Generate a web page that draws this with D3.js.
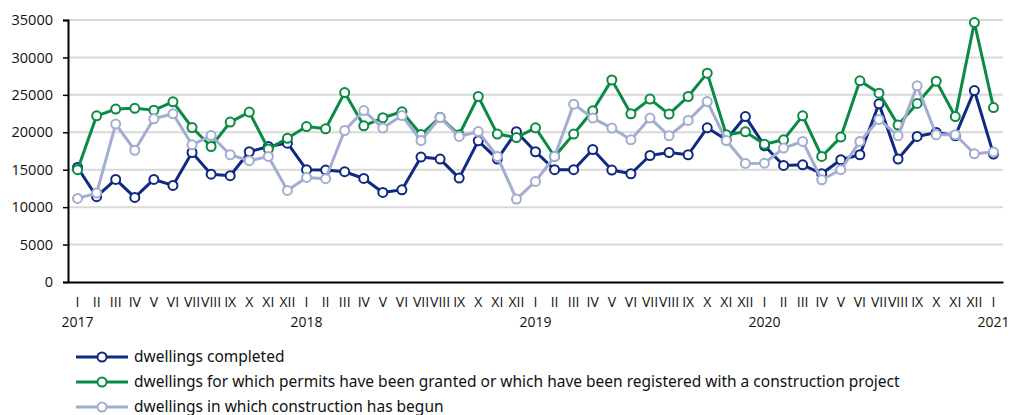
<!DOCTYPE html>
<html><head><meta charset="utf-8">
<script src="https://cdn.jsdelivr.net/npm/d3@7"></script>
<style>
body{margin:0;background:#fff;}
svg{display:block;}
</style></head>
<body><svg id="chart" width="1010" height="415"></svg>
<script>
const months = ["I","II","III","IV","V","VI","VII","VIII","IX","X","XI","XII"];
const years = ["2017","2018","2019","2020","2021"];
const yTicks = [0,5000,10000,15000,20000,25000,30000,35000];

const completed = [15300,11400,13700,11300,13700,12900,17300,14400,14200,17400,18100,18550,
  15000,14950,14730,13830,11960,12320,16690,16420,13880,18860,16420,20070,
  17400,15000,15000,17700,14950,14460,16900,17300,17000,20600,19000,22100,
  18200,15570,15660,14460,16330,17000,23800,16420,19440,19970,19530,25580,
  17090];
const permits = [15000,22200,23100,23200,22960,24070,20640,18100,21360,22700,17760,19200,
  20770,20470,25300,20870,21940,22740,19700,22000,19670,24780,19760,19300,
  20600,16770,19760,22870,27000,22470,24430,22430,24780,27900,19670,20070,
  18400,19000,22200,16770,19360,26870,25230,20960,23850,26830,22100,34660,
  23300];
const begun = [11160,11880,21100,17600,21800,22470,18330,19570,17000,16200,16770,12230,
  13970,13800,20240,22900,20560,22240,18900,21980,19440,20100,16770,11080,
  13430,16770,23760,21900,20560,19000,21900,19530,21580,24100,18900,15840,
  15880,17890,18780,13660,15000,18780,21720,19530,26200,19670,19670,17130,
  17360];

const seriesNames = ["dwellings completed",
  "dwellings for which permits have been granted or which have been registered with a construction project",
  "dwellings in which construction has begun"];
const seriesColors = ["#0f2a82","#0b8a43","#a3add2"];
const seriesData = [completed, permits, begun];

(function(){
const idx = d3.range(completed.length);
const svg = d3.select("#chart");
const pLeft = 68, pRight = 1003, pTop = 20, pBottom = 282;

const x = d3.scaleBand().domain(idx).range([pLeft, pRight]);
const xc = i => x(i) + x.bandwidth()/2;
const y = d3.scaleLinear().domain([0,35000]).range([pBottom, pTop]);

// gridlines
svg.append("g").selectAll("line").data(yTicks.filter(d=>d>0)).join("line")
  .attr("x1", pLeft).attr("x2", pRight)
  .attr("y1", d=>y(d)).attr("y2", d=>y(d))
  .attr("stroke","#d9d9d9").attr("stroke-width",2);

// y axis
const yAxis = svg.append("g").attr("transform",`translate(${pLeft},0)`)
  .call(d3.axisLeft(y).tickValues(yTicks).tickFormat(d=>String(d)).tickSize(5).tickPadding(10));
yAxis.select(".domain").attr("stroke","#000").attr("stroke-width",2);
yAxis.selectAll(".tick line").attr("stroke","#000").attr("stroke-width",1.5);
yAxis.selectAll("text").attr("font-family","'Open Sans', sans-serif").attr("font-size",14.5).attr("fill","#111");

// x axis
const xAxis = svg.append("g").attr("transform",`translate(0,${pBottom})`)
  .call(d3.axisBottom(x).tickFormat(i=>months[i%12]).tickSize(0).tickPadding(15));
xAxis.select(".domain").attr("stroke","#000").attr("stroke-width",2);
xAxis.selectAll("text").attr("font-family","'Open Sans', sans-serif").attr("font-size",14).attr("fill","#111");

// year labels
svg.append("g").selectAll("text").data(years).join("text")
  .attr("x",(d,k)=>xc(k*12)).attr("y",327)
  .attr("text-anchor","middle")
  .attr("font-family","'Open Sans', sans-serif").attr("font-size",14).attr("fill","#111")
  .text(d=>d);

// lines
const line = d3.line().x((d,i)=>xc(i)).y(d=>y(d));
seriesData.forEach((data,s)=>{
  svg.append("path").datum(data).attr("d",line)
    .attr("fill","none").attr("stroke",seriesColors[s]).attr("stroke-width",3)
    .attr("stroke-linejoin","round");
  svg.append("g").selectAll("circle").data(data).join("circle")
    .attr("cx",(d,i)=>xc(i)).attr("cy",d=>y(d)).attr("r",4.5)
    .attr("fill","#fff").attr("stroke",seriesColors[s]).attr("stroke-width",2);
});

// legend
const lg = svg.append("g");
seriesNames.forEach((name,s)=>{
  const yy = 357 + s*25;
  lg.append("line").attr("x1",76).attr("x2",128).attr("y1",yy).attr("y2",yy)
    .attr("stroke",seriesColors[s]).attr("stroke-width",3);
  lg.append("circle").attr("cx",102).attr("cy",yy).attr("r",4.5)
    .attr("fill","#fff").attr("stroke",seriesColors[s]).attr("stroke-width",2);
  lg.append("text").attr("x",134).attr("y",yy).attr("dy","0.35em")
    .attr("font-family","'Noto Sans', sans-serif").attr("font-size",15.5).attr("fill","#111")
    .text(name);
});
})();
</script></body></html>
